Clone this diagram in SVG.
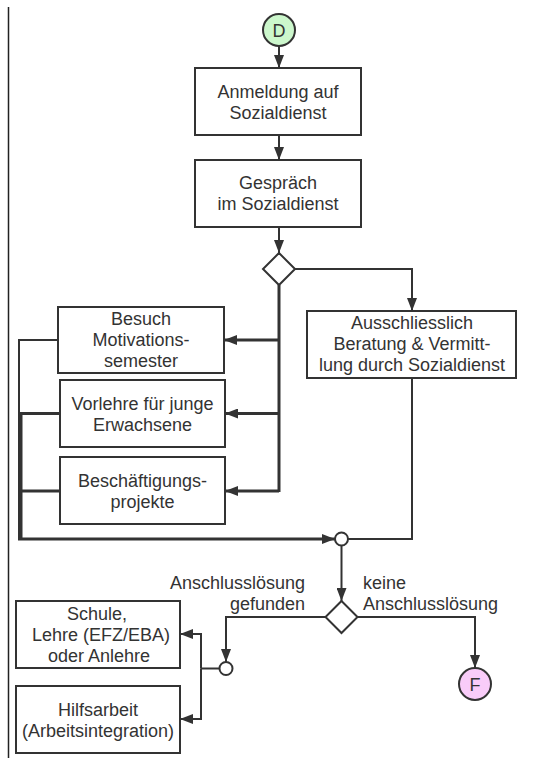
<svg xmlns="http://www.w3.org/2000/svg" width="534" height="758" viewBox="0 0 534 758">
<style>
.box{fill:#fff;stroke:#333;stroke-width:2}
.t{font-family:"Liberation Sans",Arial,sans-serif;font-size:18px;fill:#333;text-anchor:middle}
.lbl{font-family:"Liberation Sans",Arial,sans-serif;font-size:18px;fill:#333}
.c{fill:none;stroke:#333;stroke-width:2}
.ca{fill:none;stroke:#333;stroke-width:2;marker-end:url(#ah)}
.thick{stroke-width:3}
.jn{fill:#fff;stroke:#333;stroke-width:2}
</style>
<defs>
<marker id="ah" markerUnits="userSpaceOnUse" markerWidth="13" markerHeight="10" refX="13" refY="5" orient="auto">
<path d="M0,0 L13,5 L0,10 z" fill="#333"/>
</marker>
</defs>
<rect width="534" height="758" fill="#fff"/>
<line x1="8.5" y1="7" x2="8.5" y2="758" stroke="#222" stroke-width="1.5"/>

<g id="connectors">
<line class="ca" x1="279" y1="46" x2="279" y2="68"/>
<line class="ca" x1="279" y1="135" x2="279" y2="160"/>
<line class="ca" x1="279" y1="227" x2="279" y2="253"/>
<polyline class="ca" points="295,269 412,269 412,311"/>
<line class="c thick" x1="279" y1="285" x2="279" y2="492"/>
<line class="ca thick" x1="279" y1="340" x2="224" y2="340"/>
<line class="ca thick" x1="279" y1="413.5" x2="225" y2="413.5"/>
<line class="ca thick" x1="279" y1="491" x2="225" y2="491"/>
<polyline class="c" points="58,340 19,340 19,539"/>
<polyline class="c thick" points="60,413.5 21,413.5 21,539"/>
<line class="c thick" x1="21" y1="491" x2="60" y2="491"/>
<line class="ca thick" x1="18" y1="539" x2="335" y2="539"/>
<polyline class="c" points="412,378 412,539 348,539"/>
<line class="ca" x1="341.5" y1="545.5" x2="341.5" y2="601"/>
<polyline class="ca" points="325.5,617 226,617 226,662"/>
<line class="c" x1="219.5" y1="668.5" x2="201" y2="668.5"/>
<polyline class="ca" points="201,668.5 201,634 180,634"/>
<polyline class="ca" points="201,668.5 201,719 180,719"/>
<polyline class="ca" points="357.5,617 475,617 475,668"/>
<text class="lbl" x="305" y="589" text-anchor="end">Anschlusslösung</text>
<text class="lbl" x="305" y="610" text-anchor="end">gefunden</text>
<text class="lbl" x="363" y="589">keine</text>
<text class="lbl" x="363" y="610">Anschlusslösung</text>
</g>

<g id="start-D">
<circle cx="279" cy="30" r="16" fill="#ccf7cc" stroke="#333" stroke-width="2"/>
<text class="t" x="279" y="36.5">D</text>
</g>
<g id="anmeldung">
<rect class="box" x="195" y="68" width="166" height="67"/>
<text class="t" x="278" y="98">Anmeldung auf</text>
<text class="t" x="278" y="119">Sozialdienst</text>
</g>
<g id="gespraech">
<rect class="box" x="195" y="160" width="166" height="67"/>
<text class="t" x="278" y="189">Gespräch</text>
<text class="t" x="278" y="210">im Sozialdienst</text>
</g>
<g id="decision1">
<polygon class="box" points="279,253 295,269 279,285 263,269"/>
</g>
<g id="beratung">
<rect class="box" x="307" y="311" width="209" height="67"/>
<text class="t" x="412" y="329">Ausschliesslich</text>
<text class="t" x="412" y="350">Beratung &amp; Vermitt-</text>
<text class="t" x="412" y="371">lung durch Sozialdienst</text>
</g>
<g id="motivationssemester">
<rect class="box" x="58" y="307" width="166" height="66"/>
<text class="t" x="141" y="325">Besuch</text>
<text class="t" x="141" y="346">Motivations-</text>
<text class="t" x="141" y="367">semester</text>
</g>
<g id="vorlehre">
<rect class="box" x="60" y="380" width="165" height="67"/>
<text class="t" x="142.5" y="409.5">Vorlehre für junge</text>
<text class="t" x="142.5" y="430.5">Erwachsene</text>
</g>
<g id="beschaeftigung">
<rect class="box" x="60" y="457" width="165" height="67"/>
<text class="t" x="142.5" y="486.5">Beschäftigungs-</text>
<text class="t" x="142.5" y="507.5">projekte</text>
</g>
<g id="junction1">
<circle class="jn" cx="341.5" cy="539" r="6.5"/>
</g>
<g id="decision2">
<polygon class="box" points="341.5,601 357.5,617 341.5,633 325.5,617"/>
</g>
<g id="junction2">
<circle class="jn" cx="226" cy="668.5" r="6.5"/>
</g>
<g id="schule">
<rect class="box" x="16" y="601" width="164" height="67"/>
<text class="t" x="97" y="620">Schule,</text>
<text class="t" x="101" y="641">Lehre (EFZ/EBA)</text>
<text class="t" x="99" y="662">oder Anlehre</text>
</g>
<g id="hilfsarbeit">
<rect class="box" x="16" y="686" width="164" height="67"/>
<text class="t" x="98" y="715.5">Hilfsarbeit</text>
<text class="t" x="98" y="736.5">(Arbeitsintegration)</text>
</g>
<g id="end-F">
<circle cx="475" cy="684" r="16" fill="#f9ccf9" stroke="#333" stroke-width="2"/>
<text class="t" x="475" y="690.5">F</text>
</g>
</svg>
